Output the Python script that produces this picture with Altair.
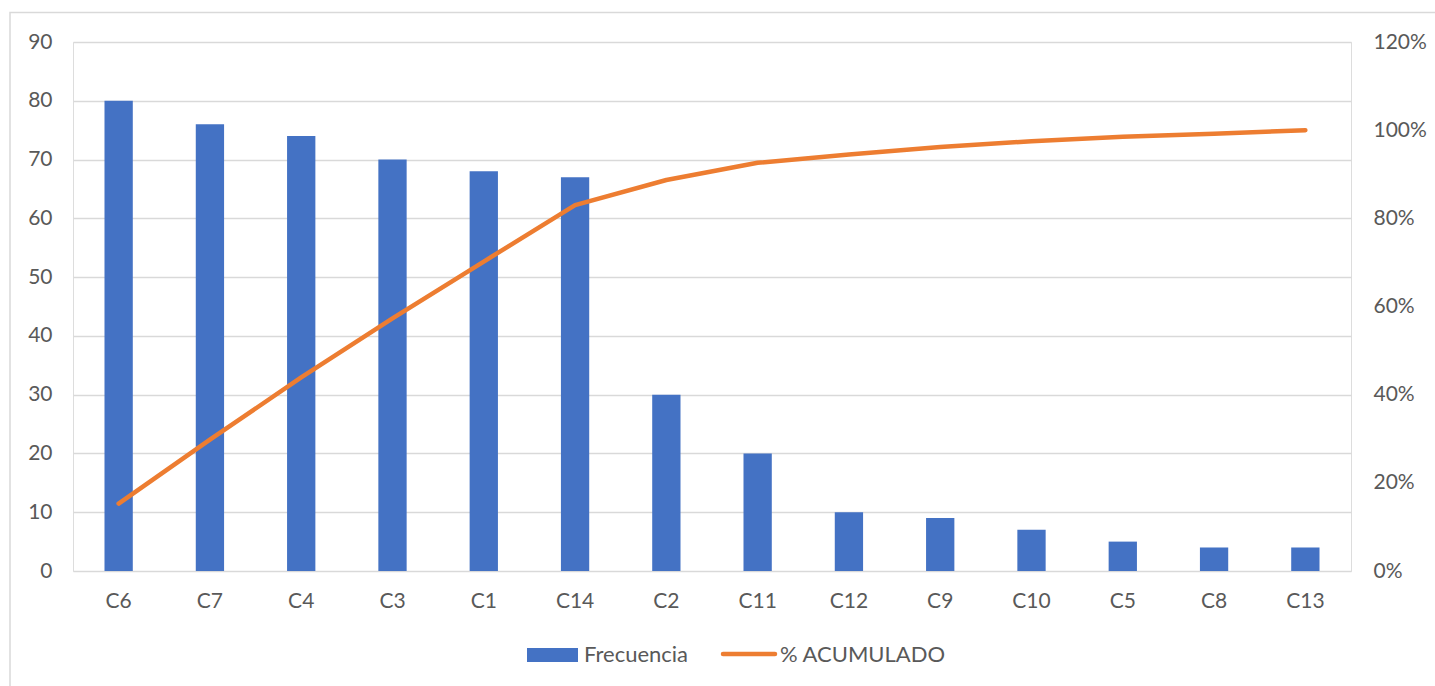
import altair as alt
import pandas as pd

categories = ["C6", "C7", "C4", "C3", "C1", "C14", "C2", "C11", "C12", "C9", "C10", "C5", "C8", "C13"]
frecuencia = [80, 76, 74, 70, 68, 67, 30, 20, 10, 9, 7, 5, 4, 4]
acumulado_pct = [15.3, 29.8, 43.9, 57.3, 70.2, 83.0, 88.7, 92.6, 94.5, 96.2, 97.5, 98.5, 99.2, 100.0]

df = pd.DataFrame({
    "cat": categories,
    "freq": frecuencia,
    "acum": [v / 100 for v in acumulado_pct],
})

W, H = 1278, 529
FONT = "Lato"
FS = 21
TXT = "#595959"
GRID = "#D9D9D9"
BLUE = "#4472C4"
ORANGE = "#ED7D31"

xenc = alt.X("cat:N", sort=categories, title=None,
             scale=alt.Scale(paddingInner=0.69, paddingOuter=0.345),
             axis=alt.Axis(labelAngle=0, labelFontSize=FS, labelColor=TXT, labelFont=FONT,
                           domain=False, ticks=False, labelPadding=19))

bars = alt.Chart(df).mark_bar(color=BLUE).encode(
    x=xenc,
    y=alt.Y("freq:Q", title=None,
            scale=alt.Scale(domain=[0, 90], nice=False),
            axis=alt.Axis(values=list(range(0, 91, 10)), labelFontSize=FS, labelColor=TXT,
                          labelFont=FONT, domain=False, ticks=False, labelPadding=21,
                          grid=True, gridColor=GRID, gridWidth=1.3)),
)

line = alt.Chart(df).mark_line(color=ORANGE, strokeWidth=4.5, strokeCap="round", strokeJoin="round").encode(
    x=alt.X("cat:N", sort=categories),
    y=alt.Y("acum:Q", title=None,
            scale=alt.Scale(domain=[0, 1.2], nice=False),
            axis=alt.Axis(orient="right", values=[0, 0.2, 0.4, 0.6, 0.8, 1.0, 1.2], format=".0%",
                          labelFontSize=FS, labelColor=TXT, labelFont=FONT, domain=False,
                          ticks=False, labelPadding=22, grid=False)),
)

main = alt.layer(bars, line).resolve_scale(y="independent")

leg_df = pd.DataFrame({"k": [0]})
border = alt.Chart(leg_df).mark_rect(fill=None, stroke=GRID, strokeWidth=1.5).encode(
    x=alt.value(-63), x2=alt.value(1450), y=alt.value(-29.5), y2=alt.value(720))
leg_rect = alt.Chart(leg_df).mark_rect(color=BLUE).encode(
    x=alt.value(454), x2=alt.value(505), y=alt.value(H + 77), y2=alt.value(H + 91))
leg_t1 = alt.Chart(leg_df).mark_text(text="Frecuencia", align="left", baseline="middle",
                                     fontSize=22, font=FONT, color=TXT).encode(
    x=alt.value(511), y=alt.value(H + 84))
leg_line = alt.Chart(leg_df).mark_rule(color=ORANGE, strokeWidth=4.5, strokeCap="round").encode(
    x=alt.value(650), x2=alt.value(702), y=alt.value(H + 83))
leg_t2 = alt.Chart(leg_df).mark_text(text="% ACUMULADO", align="left", baseline="middle",
                                     fontSize=22, font=FONT, color=TXT).encode(
    x=alt.value(707), y=alt.value(H + 84))

chart = alt.layer(border, main, leg_rect, leg_t1, leg_line, leg_t2).resolve_scale(y="independent").properties(
    width=W, height=H,
    autosize=alt.AutoSizeParams(type="none"),
    padding={"left": 73, "top": 42, "right": 84, "bottom": 115},
).configure_view(stroke=None).configure(background="white")

chart.save("out.html", embed_options={"renderer": "svg", "actions": False})
